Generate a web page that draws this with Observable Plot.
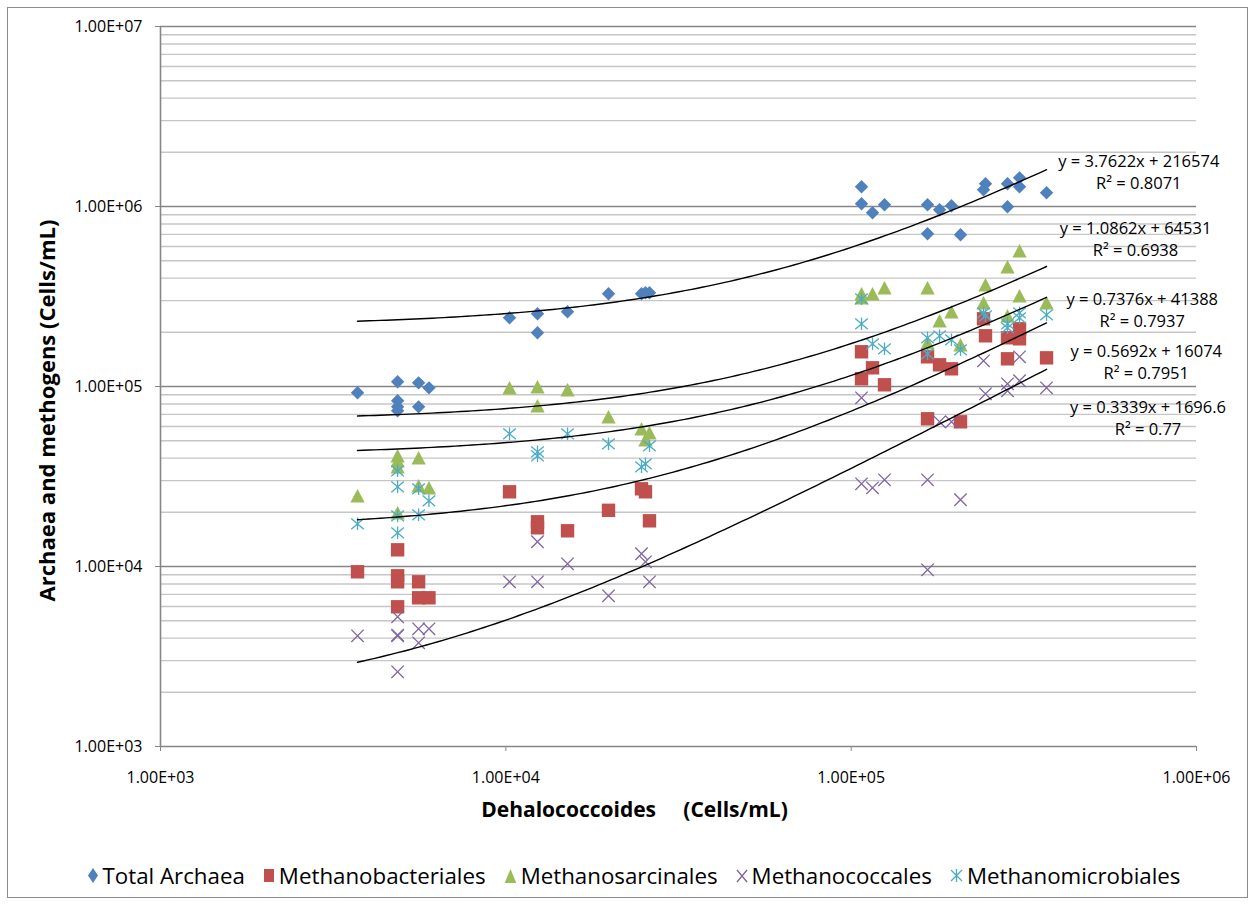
<!DOCTYPE html>
<html><head><meta charset="utf-8">
<script src="https://cdn.jsdelivr.net/npm/d3@7"></script>
<script src="https://cdn.jsdelivr.net/npm/@observablehq/plot@0.6"></script>
<style>
html,body{margin:0;padding:0;background:#fff;}
#wrap{position:relative;width:1251px;height:904px;font-family:'Open Sans',sans-serif;overflow:hidden;}
#frame{position:absolute;left:7px;top:7px;width:1241px;height:891px;border:1px solid #8c8c8c;box-sizing:border-box;}
#chart{position:absolute;left:0;top:0;}
#legend{position:absolute;left:8px;top:860px;width:1251px;display:flex;justify-content:center;align-items:center;font-size:22.3px;color:#000;}
#legend .item{display:flex;align-items:center;margin:0 9px;}
#legend svg{margin-right:4px;}
</style>
</head><body>
<div id="wrap"><div id="frame"></div><div id="chart"></div><div id="legend"></div></div>
<script>
// Dehalococcoides (x) and the five series (y), cells/mL
const dhc = [3720,4860,4860,4860,4860,5590,5590,5990,10250,12350,12350,15090,19830,24710,25370,26060,107150,107150,115300,124900,166400,166400,180300,195200,207300,241700,244900,283600,283600,307300,307300,367900];
const totalArchaea = [92300,106200,83300,77100,73300,104800,77100,98300,240800,253400,198800,260000,327300,327300,331500,331500,1287000,1035000,922600,1022000,1022000,705200,958800,1009000,696200,1238000,1337000,1337000,996100,1443000,1287000,1192000];
const methanobacteriales = [9346,12380,8878,8222,5972,8222,6701,6701,26000,17720,16410,15790,20520,27020,26000,17940,155900,110400,127000,102200,146200,66160,132000,125400,63660,237800,191300,186500,142500,209200,184100,144300];
const methanosarcinales = [24710,41210,38660,35810,19880,40170,28070,27360,98350,99610,78130,95870,67860,58210,50570,55320,327300,311100,327300,353400,353400,174900,231700,260000,170500,291700,367300,462400,247100,567500,319000,291700];
const methanococcales = [4121,5255,4121,4160,2600,4507,3768,4507,8222,8222,13720,10350,6875,11770,10620,8222,86540,28800,27360,30320,30320,9587,63660,63660,23480,138900,91090,103500,94650,146200,107600,98350];
const methanomicrobiales = [17270,34010,27720,19120,15390,27020,19370,23170,54610,43380,41210,54610,48060,35810,37210,46840,307000,223000,172700,162000,186500,151900,191300,181700,159900,256700,247100,223000,211900,256700,240800,250200];

const seriesNames = ["Total Archaea","Methanobacteriales","Methanosarcinales","Methanococcales","Methanomicrobiales"];
const seriesValues = [totalArchaea, methanobacteriales, methanosarcinales, methanococcales, methanomicrobiales];
const seriesColors = ["#4F81BD","#C0504D","#9BBB59","#8064A2","#4BACC6"];

// Linear trendlines as printed on the chart (y = a x + b)
const trendSlopes = [3.7622, 0.5692, 1.0862, 0.3339, 0.7376];
const trendIntercepts = [216574, 16074, 64531, 1696.6, 41388];
const trendR2 = ["0.8071", "0.7951", "0.6938", "0.77", "0.7937"];
// anchor of each equation label, in data units
const labelX = [680700, 715200, 665900, 723800, 696300];
const labelY = [1573000, 138400, 665800, 67700, 269200];

const xTicks = [1e3, 1e4, 1e5, 1e6];
const yTicks = [1e3, 1e4, 1e5, 1e6, 1e7];
const xTitle = "Dehalococcoides\u00a0\u00a0\u00a0\u00a0\u00a0(Cells/mL)";
const yTitle = "Archaea and methogens (Cells/mL)";

const fmt = d => { const [m, e] = d.toExponential(2).split("e"); const n = +e; return `${m}E${n < 0 ? "-" : "+"}${String(Math.abs(n)).padStart(2, "0")}`; };

// marker shapes (half-extent = r)
const R = s => Math.sqrt(s / Math.PI);
const symDiamond = {draw(c, s) { const r = R(s); c.moveTo(0, -r); c.lineTo(r, 0); c.lineTo(0, r); c.lineTo(-r, 0); c.closePath(); }};
const symSquare = {draw(c, s) { const r = R(s); c.rect(-r, -r, 2 * r, 2 * r); }};
const symTriangle = {draw(c, s) { const r = R(s); c.moveTo(0, -r); c.lineTo(r * 1.05, r); c.lineTo(-r * 1.05, r); c.closePath(); }};
const symTimes = {draw(c, s) { const r = R(s); c.moveTo(-r, -r); c.lineTo(r, r); c.moveTo(-r, r); c.lineTo(r, -r); }};
const symStar = {draw(c, s) { const r = R(s); const k = 0.85; c.moveTo(-r, -r * k); c.lineTo(r, r * k); c.moveTo(-r, r * k); c.lineTo(r, -r * k); c.moveTo(0, -r); c.lineTo(0, r); }};
const seriesSymbols = [symDiamond, symSquare, symTriangle, symTimes, symStar];
const seriesFilled = [true, true, true, false, false];
const seriesR = [6.7, 6.7, 6.8, 6.2, 6.3];

const rows = dhc.map((x, i) => ({x, vals: seriesValues.map(v => v[i])}));

const grid = [];
for (let k = 3; k <= 6; k++) for (let m = 2; m <= 9; m++) grid.push(m * 10 ** k);

const xmin = d3.min(dhc), xmax = d3.max(dhc);
const trendData = [];
seriesNames.forEach((name, s) => {
  const n = 120;
  for (let i = 0; i <= n; i++) {
    const x = xmin * Math.pow(xmax / xmin, i / n);
    trendData.push({series: name, x, y: trendSlopes[s] * x + trendIntercepts[s]});
  }
});
const labels = seriesNames.map((name, s) => ({x: labelX[s], y: labelY[s], text: `y = ${trendSlopes[s]}x + ${trendIntercepts[s]}\nR² = ${trendR2[s]}`}));

const dotMarks = seriesNames.map((name, s) => Plot.dot(rows, {
  x: "x", y: d => d.vals[s], symbol: seriesSymbols[s], r: seriesR[s],
  fill: seriesFilled[s] ? seriesColors[s] : "none",
  stroke: seriesFilled[s] ? "none" : seriesColors[s],
  strokeWidth: 1.3
}));

const chart = Plot.plot({
  width: 1251, height: 850,
  marginLeft: 160, marginRight: 55, marginTop: 26, marginBottom: 104,
  x: {type: "log", domain: [1e3, 1e6]},
  y: {type: "log", domain: [1e3, 1e7]},
  style: {fontFamily: "'Open Sans', sans-serif", fontSize: "16px", color: "#000", background: "transparent"},
  marks: [
    Plot.ruleY(grid, {stroke: "#c6c6c6", strokeWidth: 1.4}),
    Plot.ruleY(yTicks.slice(1), {stroke: "#868686", strokeWidth: 1.5}),
    Plot.ruleX([1e3], {stroke: "#868686", strokeWidth: 1.6}),
    Plot.ruleY([1e3], {stroke: "#868686", strokeWidth: 1.6}),
    Plot.axisY(yTicks, {tickFormat: fmt, tickSize: 5, tickPadding: 13, stroke: "#868686", fill: "#000", fontSize: 16, label: null}),
    Plot.axisX(xTicks, {tickFormat: fmt, tickSize: 5, tickPadding: 20, stroke: "#868686", fill: "#000", fontSize: 16, label: null}),
    ...dotMarks,
    Plot.line(trendData, {x: "x", y: "y", z: "series", stroke: "#000", strokeWidth: 1.4}),
    Plot.text(labels, {x: "x", y: "y", text: "text", fontSize: 16.5, lineHeight: 1.3, fill: "#000"}),
    Plot.text([xTitle], {text: d => d, frameAnchor: "bottom", dx: -44, dy: 70, fontWeight: "bold", fontSize: 21, fill: "#000"}),
    Plot.text([yTitle], {text: d => d, frameAnchor: "left", textAnchor: "middle", rotate: -90, dx: -113, dy: 24, fontWeight: "bold", fontSize: 22, fill: "#000"})
  ]
});
document.getElementById("chart").appendChild(chart);

// legend
const legend = document.getElementById("legend");
const legendSize = [[10, 15], [10, 13], [11, 14], [10, 12], [11, 13]];
seriesNames.forEach((name, s) => {
  const item = document.createElement("div");
  item.className = "item";
  const [w, h] = legendSize[s];
  const svg = d3.create("svg").attr("width", w + 2).attr("height", h + 2);
  const g = svg.append("g").attr("transform", `translate(${(w + 2) / 2},${(h + 2) / 2}) scale(${w / 2 / 6.5},${h / 2 / 6.5})`);
  const p = d3.path(); seriesSymbols[s].draw(p, Math.PI * 6.5 * 6.5);
  g.append("path").attr("d", p.toString())
    .attr("fill", seriesFilled[s] ? seriesColors[s] : "none")
    .attr("stroke", seriesFilled[s] ? "none" : seriesColors[s])
    .attr("stroke-width", 1.3).attr("vector-effect", "non-scaling-stroke");
  item.appendChild(svg.node());
  const t = document.createElement("span"); t.textContent = name;
  item.appendChild(t);
  legend.appendChild(item);
});
</script>
</body></html>
